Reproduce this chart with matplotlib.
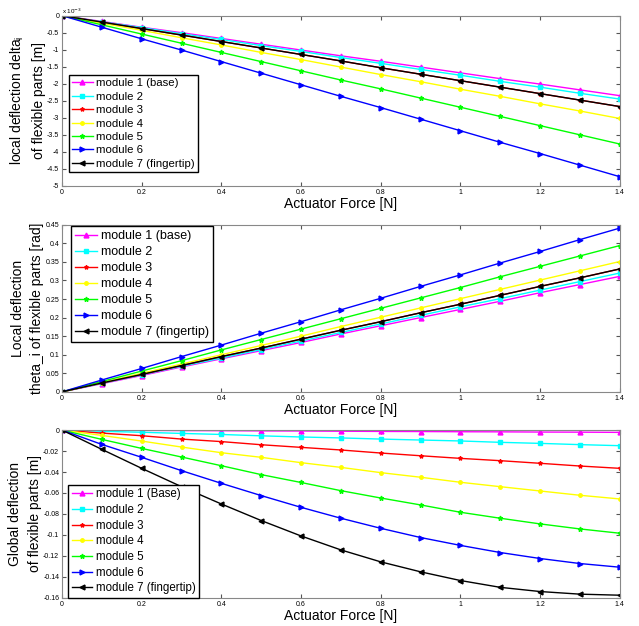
import numpy as np
import matplotlib.pyplot as plt

plt.rcParams['font.family'] = ['Liberation Sans', 'DejaVu Sans']
plt.rcParams['axes.unicode_minus'] = False

force = [0.0, 0.1, 0.2, 0.3, 0.4, 0.5, 0.6, 0.7, 0.8, 0.9, 1.0, 1.1, 1.2, 1.3, 1.4]

# local deflection delta_i [m] (x 1e-3)
delta_m1 = [0, -0.17, -0.34, -0.50, -0.67, -0.84, -1.01, -1.18, -1.34, -1.51, -1.68, -1.85, -2.01, -2.18, -2.35]
delta_m2 = [0, -0.18, -0.35, -0.53, -0.70, -0.88, -1.05, -1.23, -1.40, -1.58, -1.75, -1.93, -2.10, -2.28, -2.45]
delta_m3 = [0, -0.19, -0.38, -0.57, -0.76, -0.95, -1.14, -1.33, -1.53, -1.72, -1.91, -2.10, -2.29, -2.48, -2.67]
delta_m4 = [0, -0.22, -0.43, -0.65, -0.86, -1.08, -1.29, -1.51, -1.73, -1.94, -2.16, -2.37, -2.59, -2.80, -3.02]
delta_m5 = [0, -0.27, -0.54, -0.81, -1.08, -1.35, -1.62, -1.89, -2.15, -2.42, -2.69, -2.96, -3.23, -3.50, -3.77]
delta_m6 = [0, -0.34, -0.68, -1.01, -1.35, -1.69, -2.03, -2.37, -2.70, -3.04, -3.38, -3.72, -4.05, -4.39, -4.73]
delta_m7 = [0, -0.19, -0.38, -0.57, -0.76, -0.95, -1.14, -1.33, -1.53, -1.72, -1.91, -2.10, -2.29, -2.48, -2.67]

# local deflection theta_i [rad]
theta_m1 = [0, 0.022, 0.044, 0.067, 0.089, 0.111, 0.133, 0.156, 0.178, 0.200, 0.222, 0.244, 0.267, 0.289, 0.311]
theta_m2 = [0, 0.023, 0.046, 0.069, 0.091, 0.114, 0.137, 0.160, 0.183, 0.206, 0.229, 0.251, 0.274, 0.297, 0.320]
theta_m3 = [0, 0.024, 0.047, 0.071, 0.095, 0.118, 0.142, 0.166, 0.189, 0.213, 0.236, 0.260, 0.284, 0.307, 0.331]
theta_m4 = [0, 0.025, 0.050, 0.075, 0.100, 0.125, 0.150, 0.176, 0.201, 0.226, 0.251, 0.276, 0.301, 0.326, 0.351]
theta_m5 = [0, 0.028, 0.056, 0.084, 0.113, 0.141, 0.169, 0.197, 0.225, 0.253, 0.281, 0.310, 0.338, 0.366, 0.394]
theta_m6 = [0, 0.032, 0.063, 0.095, 0.126, 0.158, 0.189, 0.221, 0.252, 0.284, 0.315, 0.347, 0.378, 0.410, 0.441]
theta_m7 = [0, 0.024, 0.047, 0.071, 0.095, 0.118, 0.142, 0.166, 0.189, 0.213, 0.236, 0.260, 0.284, 0.307, 0.331]

# global deflection [m]
glob_m1 = [0, -0.0002, -0.0003, -0.0005, -0.0006, -0.0008, -0.0009, -0.0011, -0.0013, -0.0014, -0.0016, -0.0017, -0.0019, -0.0020, -0.0022]
glob_m2 = [0, -0.0012, -0.0021, -0.0032, -0.0042, -0.0055, -0.0066, -0.0075, -0.0086, -0.0095, -0.0104, -0.0117, -0.0127, -0.0139, -0.0149]
glob_m3 = [0, -0.0029, -0.0054, -0.0086, -0.0110, -0.0140, -0.0165, -0.0190, -0.0219, -0.0245, -0.0270, -0.0292, -0.0317, -0.0343, -0.0365]
glob_m4 = [0, -0.0051, -0.0105, -0.0162, -0.0216, -0.0260, -0.0311, -0.0356, -0.0406, -0.0450, -0.0498, -0.0540, -0.0581, -0.0622, -0.0657]
glob_m5 = [0, -0.0089, -0.0175, -0.0257, -0.0340, -0.0425, -0.0500, -0.0578, -0.0648, -0.0714, -0.0784, -0.0841, -0.0895, -0.0943, -0.0984]
glob_m6 = [0, -0.0137, -0.0260, -0.0387, -0.0508, -0.0625, -0.0737, -0.0841, -0.0937, -0.1025, -0.1100, -0.1168, -0.1225, -0.1273, -0.1308]
glob_m7 = [0, -0.0184, -0.0365, -0.0540, -0.0705, -0.0863, -0.1010, -0.1143, -0.1257, -0.1352, -0.1435, -0.1500, -0.1540, -0.1565, -0.1575]

names_local = ['module 1 (base)', 'module 2', 'module 3', 'module 4',
               'module 5', 'module 6', 'module 7 (fingertip)']
names_global = ['module 1 (Base)', 'module 2', 'module 3', 'module 4',
                'module 5', 'module 6', 'module 7 (fingertip)']
colors = ['#ff00ff', '#00ffff', '#ff0000', '#ffff00', '#00ff00', '#0000ff', '#000000']
markers = ['^', 's', '*', 'o', '*', '>', '<']
msizes = [3.5, 2.5, 3, 2.5, 3.5, 3.5, 3.5]

fig = plt.figure(figsize=(6.39, 6.26), dpi=100)
ax1 = fig.add_axes([0.097, 0.703, 0.873, 0.272])
ax2 = fig.add_axes([0.097, 0.374, 0.873, 0.267])
ax3 = fig.add_axes([0.097, 0.045, 0.873, 0.268])

panels = [
    (ax1, [delta_m1, delta_m2, delta_m3, delta_m4, delta_m5, delta_m6, delta_m7], names_local),
    (ax2, [theta_m1, theta_m2, theta_m3, theta_m4, theta_m5, theta_m6, theta_m7], names_local),
    (ax3, [glob_m1, glob_m2, glob_m3, glob_m4, glob_m5, glob_m6, glob_m7], names_global),
]

for ax, series, names in panels:
    for i in range(7):
        ax.plot(force, series[i], color=colors[i], marker=markers[i], ms=msizes[i],
                lw=1.0, label=names[i])
    ax.set_xlim(0, 1.4)
    ax.set_xticks(np.arange(0, 1.41, 0.2))
    ax.set_xticklabels(['0', '0.2', '0.4', '0.6', '0.8', '1', '1.2', '1.4'])
    ax.tick_params(direction='in', top=True, right=True, labelsize=5, length=3,
                   color='#555555', pad=2)
    for s in ax.spines.values():
        s.set_color('#888888')
        s.set_linewidth(0.8)
    ax.set_xlabel('Actuator Force [N]', fontsize=10, labelpad=1)

ax1.set_ylim(-5, 0)
ax1.set_yticks(np.arange(-5, 0.01, 0.5))
ax1.set_yticklabels(['-5', '-4.5', '-4', '-3.5', '-3', '-2.5', '-2', '-1.5', '-1', '-0.5', '0'])
ax1.text(0, 1.0, 'x 10$^{-3}$', transform=ax1.transAxes, fontsize=4.5, va='bottom', ha='left')
ax1.set_ylabel('local deflection delta$_\\mathregular{i}$\nof flexible parts [m]', fontsize=10,
               labelpad=1, linespacing=1.5)
ax1.legend(loc='lower left', bbox_to_anchor=(0.012, 0.08), fontsize=8.2, fancybox=False,
           edgecolor='black', framealpha=1, handlelength=1.8, labelspacing=0.3,
           borderpad=0.3, handletextpad=0.3, borderaxespad=0)

ax2.set_ylim(0, 0.45)
ax2.set_yticks(np.arange(0, 0.451, 0.05))
ax2.set_yticklabels(['0', '0.05', '0.1', '0.15', '0.2', '0.25', '0.3', '0.35', '0.4', '0.45'])
ax2.set_ylabel('Local deflection\ntheta_i of flexible parts [rad]', fontsize=10,
               labelpad=1, linespacing=1.5)
ax2.legend(loc='upper left', bbox_to_anchor=(0.016, 0.99), fontsize=9, fancybox=False,
           edgecolor='black', framealpha=1, handlelength=1.8, labelspacing=0.32,
           borderpad=0.3, handletextpad=0.3, borderaxespad=0)

ax3.set_ylim(-0.16, 0)
ax3.set_yticks(np.arange(-0.16, 0.001, 0.02))
ax3.set_yticklabels(['-0.16', '-0.14', '-0.12', '-0.1', '-0.08', '-0.06', '-0.04', '-0.02', '0'])
ax3.set_ylabel('Global deflection\nof flexible parts [m]', fontsize=10,
               labelpad=1, linespacing=1.5)
ax3.legend(loc='lower left', bbox_to_anchor=(0.011, 0.0), fontsize=8.3, fancybox=False,
           edgecolor='black', framealpha=1, handlelength=1.8, labelspacing=0.32,
           borderpad=0.3, handletextpad=0.3, borderaxespad=0)

fig.savefig('out.png', dpi=100)
